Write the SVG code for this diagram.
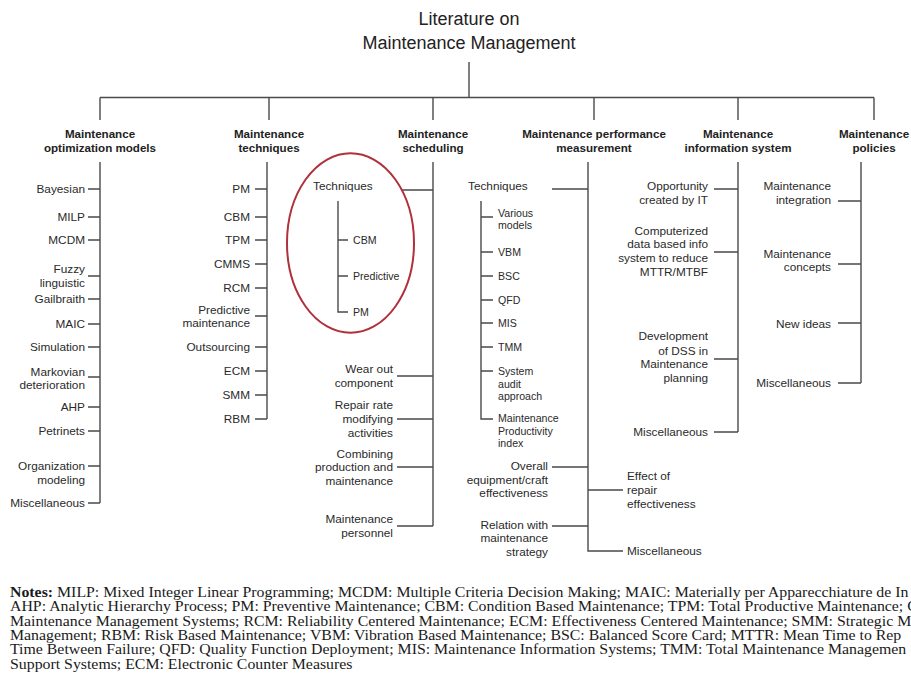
<svg xmlns="http://www.w3.org/2000/svg" width="911" height="676" viewBox="0 0 911 676">
  <style>
    .ln { stroke: #4a4a4a; stroke-width: 1.4; fill: none; }
    .title { font-family: "Liberation Sans", Arial, sans-serif; font-size: 18px; fill: #222; text-anchor: middle; }
    .head { font-family: "Liberation Sans", Arial, sans-serif; font-size: 11.6px; font-weight: bold; fill: #222; text-anchor: middle; }
    .it { font-family: "Liberation Sans", Arial, sans-serif; font-size: 11.8px; fill: #2a2a2a; }
    .sm { font-family: "Liberation Sans", Arial, sans-serif; font-size: 10.6px; fill: #2a2a2a; }
    .r { text-anchor: end; }
    .note { font-family: "Liberation Serif", "Times New Roman", serif; font-size: 14.4px; fill: #1a1a1a; }
    .ring { fill: none; stroke: #b0303c; stroke-width: 2; }
  </style>

  <!-- root -->
  <g id="root">
    <text class="title" x="469" y="25">Literature on</text>
    <text class="title" x="469" y="49">Maintenance Management</text>
  </g>

  <!-- tree connectors -->
  <g id="connectors">
    <path class="ln" d="M469 62V97.5M100 97.5H874M100 97.5V120M269 97.5V120M433 97.5V120M594 97.5V120M738 97.5V120M874 97.5V120"/>
    <!-- optimization models -->
    <path class="ln" d="M100 162V503M88 189H100M88 217H100M88 240H100M88 276H100M88 299H100M88 324H100M88 347H100M88 377H100M88 407H100M88 431H100M88 466H100M88 503H100"/>
    <!-- techniques -->
    <path class="ln" d="M267 162V419M255 189H267M255 217H267M255 240H267M255 264H267M255 288H267M255 316H267M255 347H267M255 371H267M255 395H267M255 419H267"/>
    <!-- scheduling -->
    <path class="ln" d="M433 162V526M402 190H433M397 376H433M397 419H433M397 467H433M397 526H433"/>
    <path class="ln" d="M338 201V312H348M338 240H348M338 276H348"/>
    <!-- performance measurement -->
    <path class="ln" d="M588 162V551H623M552 189H588M552 467H588M552 526H588M588 490H623"/>
    <path class="ln" d="M481 201V419H493M481 217H493M481 252H493M481 276H493M481 300H493M481 323H493M481 347H493M481 371H493"/>
    <!-- information system -->
    <path class="ln" d="M738 162V432M714 189H738M714 252H738M714 359H738M714 432H738"/>
    <!-- policies -->
    <path class="ln" d="M861 162V383M838 201H861M838 264H861M838 323H861M838 383H861"/>
  </g>

  <g id="optimization-models">
    <text class="head" x="100" y="138">Maintenance</text>
    <text class="head" x="100" y="152">optimization models</text>
    <text class="it r" x="85" y="193">Bayesian</text>
    <text class="it r" x="85" y="221">MILP</text>
    <text class="it r" x="85" y="244">MCDM</text>
    <text class="it r" x="85" y="273">Fuzzy</text>
    <text class="it r" x="85" y="287">linguistic</text>
    <text class="it r" x="85" y="303">Gailbraith</text>
    <text class="it r" x="85" y="328">MAIC</text>
    <text class="it r" x="85" y="351">Simulation</text>
    <text class="it r" x="85" y="376">Markovian</text>
    <text class="it r" x="85" y="389">deterioration</text>
    <text class="it r" x="85" y="411">AHP</text>
    <text class="it r" x="85" y="435">Petrinets</text>
    <text class="it r" x="85" y="470">Organization</text>
    <text class="it r" x="85" y="484">modeling</text>
    <text class="it r" x="85" y="507">Miscellaneous</text>
  </g>

  <g id="techniques">
    <text class="head" x="269" y="138">Maintenance</text>
    <text class="head" x="269" y="152">techniques</text>
    <text class="it r" x="250" y="193">PM</text>
    <text class="it r" x="250" y="221">CBM</text>
    <text class="it r" x="250" y="244">TPM</text>
    <text class="it r" x="250" y="268">CMMS</text>
    <text class="it r" x="250" y="292">RCM</text>
    <text class="it r" x="250" y="314">Predictive</text>
    <text class="it r" x="250" y="327">maintenance</text>
    <text class="it r" x="250" y="351">Outsourcing</text>
    <text class="it r" x="250" y="375">ECM</text>
    <text class="it r" x="250" y="399">SMM</text>
    <text class="it r" x="250" y="423">RBM</text>
  </g>

  <g id="scheduling">
    <text class="head" x="433" y="138">Maintenance</text>
    <text class="head" x="433" y="152">scheduling</text>
    <ellipse class="ring" cx="350.5" cy="243" rx="63.5" ry="89.8"/>
    <text class="it" x="313" y="190">Techniques</text>
    <text class="sm" x="353" y="244">CBM</text>
    <text class="sm" x="353" y="280">Predictive</text>
    <text class="sm" x="353" y="316">PM</text>
    <text class="it r" x="393" y="373">Wear out</text>
    <text class="it r" x="393" y="387">component</text>
    <text class="it r" x="393" y="409">Repair rate</text>
    <text class="it r" x="393" y="423">modifying</text>
    <text class="it r" x="393" y="437">activities</text>
    <text class="it r" x="393" y="458">Combining</text>
    <text class="it r" x="393" y="471">production and</text>
    <text class="it r" x="393" y="485">maintenance</text>
    <text class="it r" x="393" y="523">Maintenance</text>
    <text class="it r" x="393" y="537">personnel</text>
  </g>

  <g id="performance-measurement">
    <text class="head" x="594" y="138">Maintenance performance</text>
    <text class="head" x="594" y="152">measurement</text>
    <text class="it" x="468" y="190">Techniques</text>
    <text class="sm" x="498" y="216.5">Various</text>
    <text class="sm" x="498" y="228.5">models</text>
    <text class="sm" x="498" y="256">VBM</text>
    <text class="sm" x="498" y="280">BSC</text>
    <text class="sm" x="498" y="304">QFD</text>
    <text class="sm" x="498" y="327">MIS</text>
    <text class="sm" x="498" y="351">TMM</text>
    <text class="sm" x="498" y="375">System</text>
    <text class="sm" x="498" y="387.5">audit</text>
    <text class="sm" x="498" y="400">approach</text>
    <text class="sm" x="498" y="422">Maintenance</text>
    <text class="sm" x="498" y="434.5">Productivity</text>
    <text class="sm" x="498" y="447">index</text>
    <text class="it r" x="548" y="470">Overall</text>
    <text class="it r" x="548" y="483.5">equipment/craft</text>
    <text class="it r" x="548" y="497">effectiveness</text>
    <text class="it r" x="548" y="529">Relation with</text>
    <text class="it r" x="548" y="542">maintenance</text>
    <text class="it r" x="548" y="556">strategy</text>
    <text class="it" x="627" y="480">Effect of</text>
    <text class="it" x="627" y="494">repair</text>
    <text class="it" x="627" y="507.5">effectiveness</text>
    <text class="it" x="627" y="555">Miscellaneous</text>
  </g>

  <g id="information-system">
    <text class="head" x="738" y="138">Maintenance</text>
    <text class="head" x="738" y="152">information system</text>
    <text class="it r" x="708" y="190">Opportunity</text>
    <text class="it r" x="708" y="203.5">created by IT</text>
    <text class="it r" x="708" y="234.5">Computerized</text>
    <text class="it r" x="708" y="248">data based info</text>
    <text class="it r" x="708" y="262">system to reduce</text>
    <text class="it r" x="708" y="275.5">MTTR/MTBF</text>
    <text class="it r" x="708" y="340">Development</text>
    <text class="it r" x="708" y="354.5">of DSS in</text>
    <text class="it r" x="708" y="368">Maintenance</text>
    <text class="it r" x="708" y="382">planning</text>
    <text class="it r" x="708" y="436">Miscellaneous</text>
  </g>

  <g id="policies">
    <text class="head" x="874" y="138">Maintenance</text>
    <text class="head" x="874" y="152">policies</text>
    <text class="it r" x="831" y="190">Maintenance</text>
    <text class="it r" x="831" y="203.5">integration</text>
    <text class="it r" x="831" y="257.5">Maintenance</text>
    <text class="it r" x="831" y="271">concepts</text>
    <text class="it r" x="831" y="327.5">New ideas</text>
    <text class="it r" x="831" y="387">Miscellaneous</text>
  </g>

  <!-- abbreviation notes, set slightly wide -->
  <g id="notes" transform="translate(10 0) scale(1.1 1)">
    <text class="note" x="0" y="597"><tspan font-weight="bold">Notes:</tspan> MILP: Mixed Integer Linear Programming; MCDM: Multiple Criteria Decision Making; MAIC: Materially per Apparecchiature de In</text>
    <text class="note" x="0" y="611.5">AHP: Analytic Hierarchy Process; PM: Preventive Maintenance; CBM: Condition Based Maintenance; TPM: Total Productive Maintenance; CM</text>
    <text class="note" x="0" y="626">Maintenance Management Systems; RCM: Reliability Centered Maintenance; ECM: Effectiveness Centered Maintenance; SMM: Strategic M</text>
    <text class="note" x="0" y="640">Management; RBM: Risk Based Maintenance; VBM: Vibration Based Maintenance; BSC: Balanced Score Card; MTTR: Mean Time to Rep</text>
    <text class="note" x="0" y="654.5">Time Between Failure; QFD: Quality Function Deployment; MIS: Maintenance Information Systems; TMM: Total Maintenance Managemen</text>
    <text class="note" x="0" y="669">Support Systems; ECM: Electronic Counter Measures</text>
  </g>
</svg>
